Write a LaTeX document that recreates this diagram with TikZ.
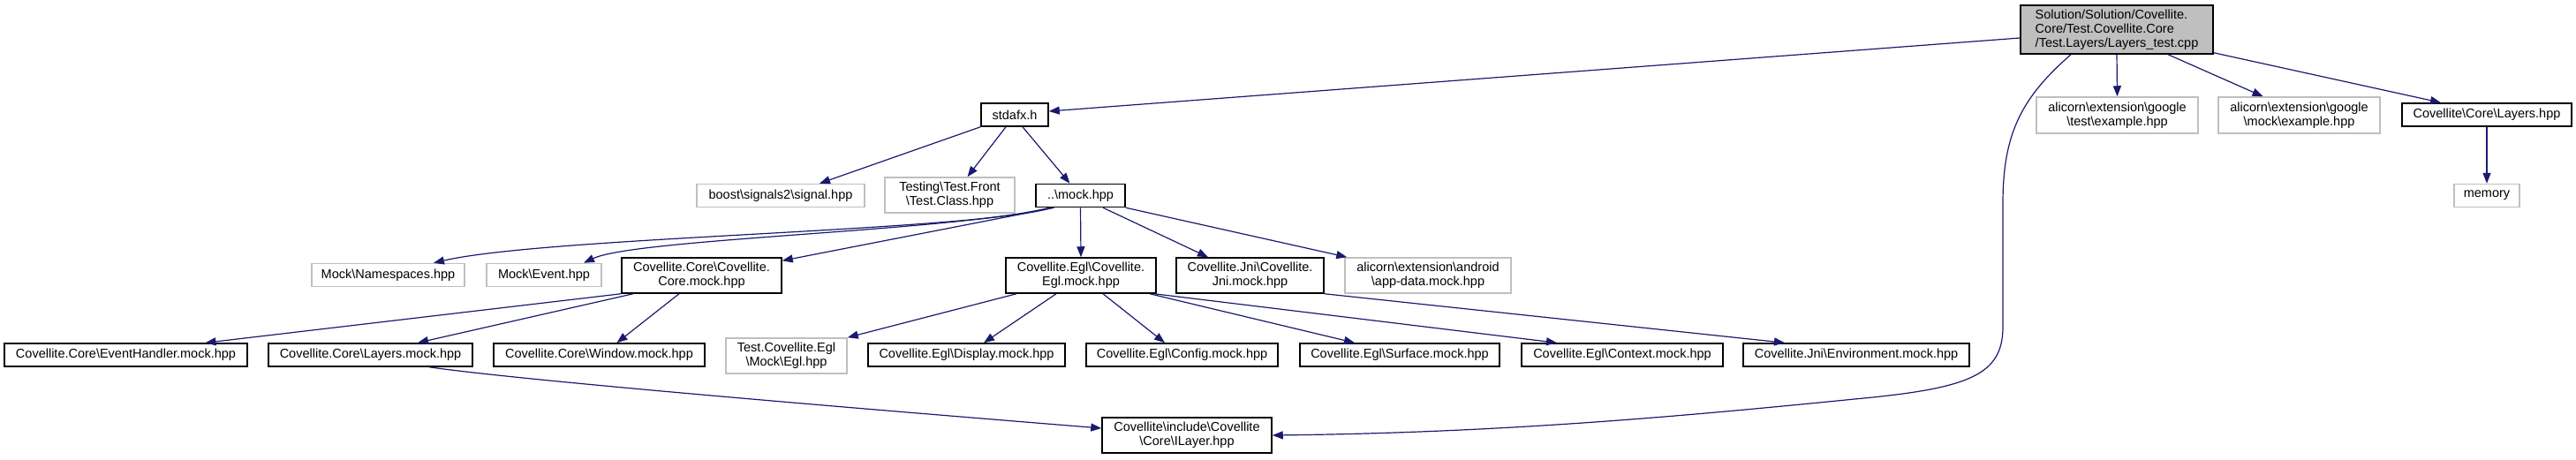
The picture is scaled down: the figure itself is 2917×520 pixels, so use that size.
\documentclass[tikz,border=0pt]{standalone}
\usepackage{fontspec}
\setmainfont{Liberation Sans}
\usetikzlibrary{arrows.meta}

\definecolor{edgeblue}{HTML}{191970}
\definecolor{grey75}{HTML}{BFBFBF}
\newcommand{\bsl}{\textbackslash}

\begin{document}
\begin{tikzpicture}[
    x=1pt, y=-1pt,
    font=\fontsize{14.5}{16}\selectfont,
    file/.style={draw=black, line width=1.5pt, fill=white, inner sep=0pt, minimum height=26pt, align=center},
    sysfile/.style={file, draw=grey75},
    mainfile/.style={file, fill=grey75, align=left},
    incl/.style={-{Triangle[length=12pt, width=9pt, fill=edgeblue]}, line width=1.2pt, draw=edgeblue}
]
    \useasboundingbox (0,0) rectangle (2917,520);

    % Nodes
    \node[mainfile, minimum width=218pt, minimum height=55pt] (root) at (2397, 33.5) {Solution/Solution/Covellite.\\Core/Test.Covellite.Core\\/Test.Layers/Layers\_test.cpp};

    \node[file, minimum width=76pt] (stdafx) at (1149, 130) {stdafx.h};
    \node[sysfile, minimum width=183pt, minimum height=41pt] (gtest) at (2397.5, 130.5) {alicorn\bsl extension\bsl google\\\bsl test\bsl example.hpp};
    \node[sysfile, minimum width=183pt, minimum height=41pt] (gmock) at (2603.5, 130.5) {alicorn\bsl extension\bsl google\\\bsl mock\bsl example.hpp};
    \node[file, minimum width=192pt] (layershpp) at (2816, 130) {Covellite\bsl Core\bsl Layers.hpp};

    \node[sysfile, minimum width=190pt] (boost) at (884, 221.5) {boost\bsl signals2\bsl signal.hpp};
    \node[sysfile, minimum width=147pt, minimum height=40pt] (testclass) at (1075.5, 221) {Testing\bsl Test.Front\\\bsl Test.Class.hpp};
    \node[file, minimum width=101pt] (mockhpp) at (1223.5, 221.5) {..\bsl mock.hpp};
    \node[sysfile, minimum width=74pt] (memory) at (2816, 221.5) {memory};

    \node[sysfile, minimum width=173pt] (namespaces) at (439.5, 311.5) {Mock\bsl Namespaces.hpp};
    \node[sysfile, minimum width=130pt] (event) at (616, 311.5) {Mock\bsl Event.hpp};
    \node[file, minimum width=181pt, minimum height=40pt] (coremock) at (794.5, 312) {Covellite.Core\bsl Covellite.\\Core.mock.hpp};
    \node[file, minimum width=170pt, minimum height=40pt] (eglmock) at (1224, 312) {Covellite.Egl\bsl Covellite.\\Egl.mock.hpp};
    \node[file, minimum width=167pt, minimum height=40pt] (jnimock) at (1415.5, 312) {Covellite.Jni\bsl Covellite.\\Jni.mock.hpp};
    \node[sysfile, minimum width=188pt, minimum height=40pt] (appdata) at (1617, 312) {alicorn\bsl extension\bsl android\\\bsl app-data.mock.hpp};

    \node[file, minimum width=275pt] (evhandler) at (142.5, 402) {Covellite.Core\bsl EventHandler.mock.hpp};
    \node[file, minimum width=231pt] (layersmock) at (419.5, 402) {Covellite.Core\bsl Layers.mock.hpp};
    \node[file, minimum width=239pt] (windowmock) at (678.5, 402) {Covellite.Core\bsl Window.mock.hpp};
    \node[sysfile, minimum width=137pt, minimum height=40pt] (eglhpp) at (890.5, 403) {Test.Covellite.Egl\\\bsl Mock\bsl Egl.hpp};
    \node[file, minimum width=223pt] (display) at (1094.5, 402) {Covellite.Egl\bsl Display.mock.hpp};
    \node[file, minimum width=217pt] (config) at (1338.5, 402) {Covellite.Egl\bsl Config.mock.hpp};
    \node[file, minimum width=226pt] (surface) at (1585, 402) {Covellite.Egl\bsl Surface.mock.hpp};
    \node[file, minimum width=228pt] (context) at (1837, 402) {Covellite.Egl\bsl Context.mock.hpp};
    \node[file, minimum width=256pt] (environment) at (2102, 402) {Covellite.Jni\bsl Environment.mock.hpp};

    \node[file, minimum width=192pt, minimum height=40pt] (ilayer) at (1344, 493) {Covellite\bsl include\bsl Covellite\\\bsl Core\bsl ILayer.hpp};

    % Links
    \draw[incl] ([yshift=-9.5]root.west) -- ([yshift=4]stdafx.east);
    \draw[incl] (root.south) -- (gtest.north);
    \draw[incl] ([xshift=58]root.south) -- ([xshift=-41]gmock.north);
    \draw[incl] ([yshift=2]root.south east) -- ([xshift=-52]layershpp.north);
    \draw[incl] ([xshift=-52]root.south) .. controls (2290,110) and (2268,150) .. (2268,230) -- (2268,370)
        .. controls (2268,425) and (2230,440) .. (2100,452) .. controls (1900,472) and (1700,490) .. (ilayer.east);
    \draw[incl] (layershpp.south) -- (memory.north);

    \draw[incl] (stdafx.south west) -- ([xshift=44]boost.north);
    \draw[incl] ([xshift=-10]stdafx.south) -- ([xshift=20]testclass.north);
    \draw[incl] ([xshift=9]stdafx.south) -- ([xshift=-12]mockhpp.north);

    \draw[incl] ([xshift=-32]mockhpp.south) .. controls (1100,262) and (620,268) .. ([xshift=51.5]namespaces.north);
    \draw[incl] ([xshift=-35]mockhpp.south) .. controls (1080,262) and (720,270) .. ([xshift=45]event.north);
    \draw[incl] ([xshift=-30]mockhpp.south) -- ([yshift=-4]coremock.north east);
    \draw[incl] (mockhpp.south) -- (eglmock.north);
    \draw[incl] ([xshift=25.5]mockhpp.south) -- ([xshift=-47.5]jnimock.north);
    \draw[incl] (mockhpp.south east) -- ([xshift=3]appdata.north west);

    \draw[incl] (coremock.south west) -- ([xshift=90]evhandler.north);
    \draw[incl] ([xshift=-77.5]coremock.south) -- ([xshift=53.5]layersmock.north);
    \draw[incl] ([xshift=-25.5]coremock.south) -- ([xshift=20]windowmock.north);

    \draw[incl] ([xshift=-73]eglmock.south) -- (eglhpp.north east);
    \draw[incl] ([xshift=-28]eglmock.south) -- ([xshift=19.5]display.north);
    \draw[incl] ([xshift=25]eglmock.south) -- ([xshift=-19.5]config.north);
    \draw[incl] ([xshift=78]eglmock.south) -- ([xshift=-51]surface.north);
    \draw[incl] ([xshift=83]eglmock.south) -- ([xshift=-74]context.north);
    \draw[incl] (jnimock.south east) -- ([xshift=-81]environment.north);

    \draw[incl] ([xshift=66.5]layersmock.south) .. controls (600,432) and (1000,465) .. ([yshift=8]ilayer.west);
\end{tikzpicture}
\end{document}
